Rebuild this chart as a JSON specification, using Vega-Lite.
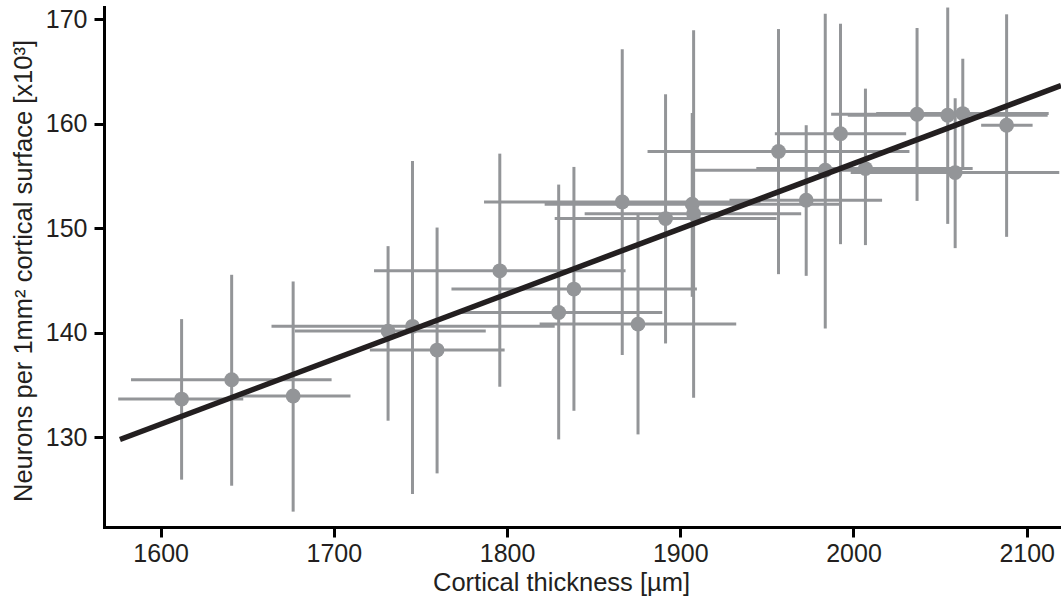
{
  "$schema": "https://vega.github.io/schema/vega-lite/v6.json",
  "width": 957,
  "height": 520,
  "autosize": {"type": "none"},
  "padding": {"left": 104, "top": 7, "right": 0, "bottom": 72},
  "background": "white",
  "config": {
    "view": {"stroke": null},
    "font": "Liberation Sans",
    "axis": {
      "grid": false,
      "domainColor": "#000000", "domainWidth": 3, "domainCap": "square",
      "tickColor": "#000000", "tickWidth": 3, "tickSize": 10,
      "labelFontSize": 25, "labelColor": "#231f20", "labelFont": "Liberation Sans", "labelFlush": false,
      "titleFontSize": 25.5, "titleFontWeight": "normal", "titleColor": "#231f20", "titleFont": "Liberation Sans"
    },
    "axisX": {"labelBaseline": "alphabetic", "labelPadding": 24, "titleX": 457, "titleY": 63, "titleBaseline": "alphabetic", "titleAlign": "center"},
    "axisY": {"labelPadding": 7, "titleX": -81, "titleY": 263.5, "titleAngle": -90, "titleBaseline": "middle", "titleAlign": "center"}
  },
  "datasets": {
    "pts": [
      {"x": 1612.1, "y": 133.64, "xlo": 1575.5, "xhi": 1647.7, "ylo": 125.93, "yhi": 141.29},
      {"x": 1641.0, "y": 135.49, "xlo": 1582.9, "xhi": 1698.7, "ylo": 125.35, "yhi": 145.53},
      {"x": 1676.5, "y": 133.93, "xlo": 1641.9, "xhi": 1709.6, "ylo": 122.87, "yhi": 144.89},
      {"x": 1731.3, "y": 140.14, "xlo": 1677.5, "xhi": 1787.7, "ylo": 131.57, "yhi": 148.27},
      {"x": 1745.4, "y": 140.6, "xlo": 1664.0, "xhi": 1827.5, "ylo": 124.56, "yhi": 156.42},
      {"x": 1759.6, "y": 138.33, "xlo": 1720.8, "xhi": 1798.6, "ylo": 126.53, "yhi": 150.05},
      {"x": 1795.8, "y": 145.91, "xlo": 1723.2, "xhi": 1868.4, "ylo": 134.82, "yhi": 157.12},
      {"x": 1829.8, "y": 141.92, "xlo": 1771.5, "xhi": 1889.6, "ylo": 129.78, "yhi": 154.16},
      {"x": 1838.6, "y": 144.16, "xlo": 1767.9, "xhi": 1909.6, "ylo": 132.52, "yhi": 155.85},
      {"x": 1866.5, "y": 152.5, "xlo": 1786.7, "xhi": 1946.3, "ylo": 137.85, "yhi": 167.1},
      {"x": 1875.6, "y": 140.81, "xlo": 1818.8, "xhi": 1932.3, "ylo": 130.26, "yhi": 151.33},
      {"x": 1891.5, "y": 150.91, "xlo": 1827.5, "xhi": 1955.6, "ylo": 138.96, "yhi": 162.8},
      {"x": 1906.9, "y": 152.28, "xlo": 1821.7, "xhi": 1991.9, "ylo": 143.42, "yhi": 161.01},
      {"x": 1907.7, "y": 151.38, "xlo": 1844.8, "xhi": 1969.8, "ylo": 133.77, "yhi": 168.92},
      {"x": 1956.7, "y": 157.33, "xlo": 1881.1, "xhi": 2032.3, "ylo": 145.59, "yhi": 169.04},
      {"x": 1972.7, "y": 152.67, "xlo": 1928.4, "xhi": 2016.5, "ylo": 145.43, "yhi": 159.84},
      {"x": 1983.7, "y": 155.54, "xlo": 1906.3, "xhi": 2061.0, "ylo": 140.39, "yhi": 170.51},
      {"x": 1992.5, "y": 159.03, "xlo": 1954.6, "xhi": 2030.4, "ylo": 148.46, "yhi": 169.55},
      {"x": 2006.9, "y": 155.69, "xlo": 1943.9, "xhi": 2068.8, "ylo": 148.37, "yhi": 163.34},
      {"x": 2036.7, "y": 160.89, "xlo": 1987.1, "xhi": 2086.4, "ylo": 152.6, "yhi": 169.14},
      {"x": 2054.4, "y": 160.79, "xlo": 1996.7, "xhi": 2112.1, "ylo": 150.4, "yhi": 171.1},
      {"x": 2058.7, "y": 155.31, "xlo": 1998.4, "xhi": 2118.8, "ylo": 148.08, "yhi": 162.42},
      {"x": 2063.1, "y": 160.95, "xlo": 2013.1, "xhi": 2112.7, "ylo": 155.7, "yhi": 166.2},
      {"x": 2088.4, "y": 159.84, "xlo": 2073.7, "xhi": 2103.4, "ylo": 149.16, "yhi": 170.45}
    ],
    "fit": [
      {"x": 1576.5, "y": 129.77},
      {"x": 2119.8, "y": 163.63}
    ]
  },
  "layer": [
    {
      "data": {"name": "pts"},
      "mark": {"type": "rule", "color": "#939598", "strokeWidth": 3},
      "encoding": {
        "x": {"field": "xlo", "type": "quantitative", "scale": {"domain": [1567.3, 2119.8], "nice": false, "zero": false},
          "axis": {"title": "Cortical thickness [µm]", "values": [1600, 1700, 1800, 1900, 2000, 2100], "format": "d"}},
        "x2": {"field": "xhi"},
        "y": {"field": "y", "type": "quantitative", "scale": {"domain": [121.4, 171.15], "nice": false, "zero": false},
          "axis": {"title": "Neurons per 1mm² cortical surface [x10³]", "values": [130, 140, 150, 160, 170], "format": "d"}}
      }
    },
    {
      "data": {"name": "pts"},
      "mark": {"type": "rule", "color": "#939598", "strokeWidth": 3},
      "encoding": {
        "x": {"field": "x", "type": "quantitative", "scale": {"domain": [1567.3, 2119.8], "nice": false, "zero": false},
          "axis": {"title": "Cortical thickness [µm]", "values": [1600, 1700, 1800, 1900, 2000, 2100], "format": "d"}},
        "y": {"field": "ylo", "type": "quantitative", "scale": {"domain": [121.4, 171.15], "nice": false, "zero": false},
          "axis": {"title": "Neurons per 1mm² cortical surface [x10³]", "values": [130, 140, 150, 160, 170], "format": "d"}},
        "y2": {"field": "yhi"}
      }
    },
    {
      "data": {"name": "pts"},
      "mark": {"type": "circle", "size": 220, "color": "#939598", "opacity": 1},
      "encoding": {
        "x": {"field": "x", "type": "quantitative", "scale": {"domain": [1567.3, 2119.8], "nice": false, "zero": false},
          "axis": {"title": "Cortical thickness [µm]", "values": [1600, 1700, 1800, 1900, 2000, 2100], "format": "d"}},
        "y": {"field": "y", "type": "quantitative", "scale": {"domain": [121.4, 171.15], "nice": false, "zero": false},
          "axis": {"title": "Neurons per 1mm² cortical surface [x10³]", "values": [130, 140, 150, 160, 170], "format": "d"}}
      }
    },
    {
      "data": {"name": "fit"},
      "mark": {"type": "line", "color": "#231f20", "strokeWidth": 5.5, "clip": true},
      "encoding": {
        "x": {"field": "x", "type": "quantitative", "scale": {"domain": [1567.3, 2119.8], "nice": false, "zero": false},
          "axis": {"title": "Cortical thickness [µm]", "values": [1600, 1700, 1800, 1900, 2000, 2100], "format": "d"}},
        "y": {"field": "y", "type": "quantitative", "scale": {"domain": [121.4, 171.15], "nice": false, "zero": false},
          "axis": {"title": "Neurons per 1mm² cortical surface [x10³]", "values": [130, 140, 150, 160, 170], "format": "d"}}
      }
    }
  ]
}
